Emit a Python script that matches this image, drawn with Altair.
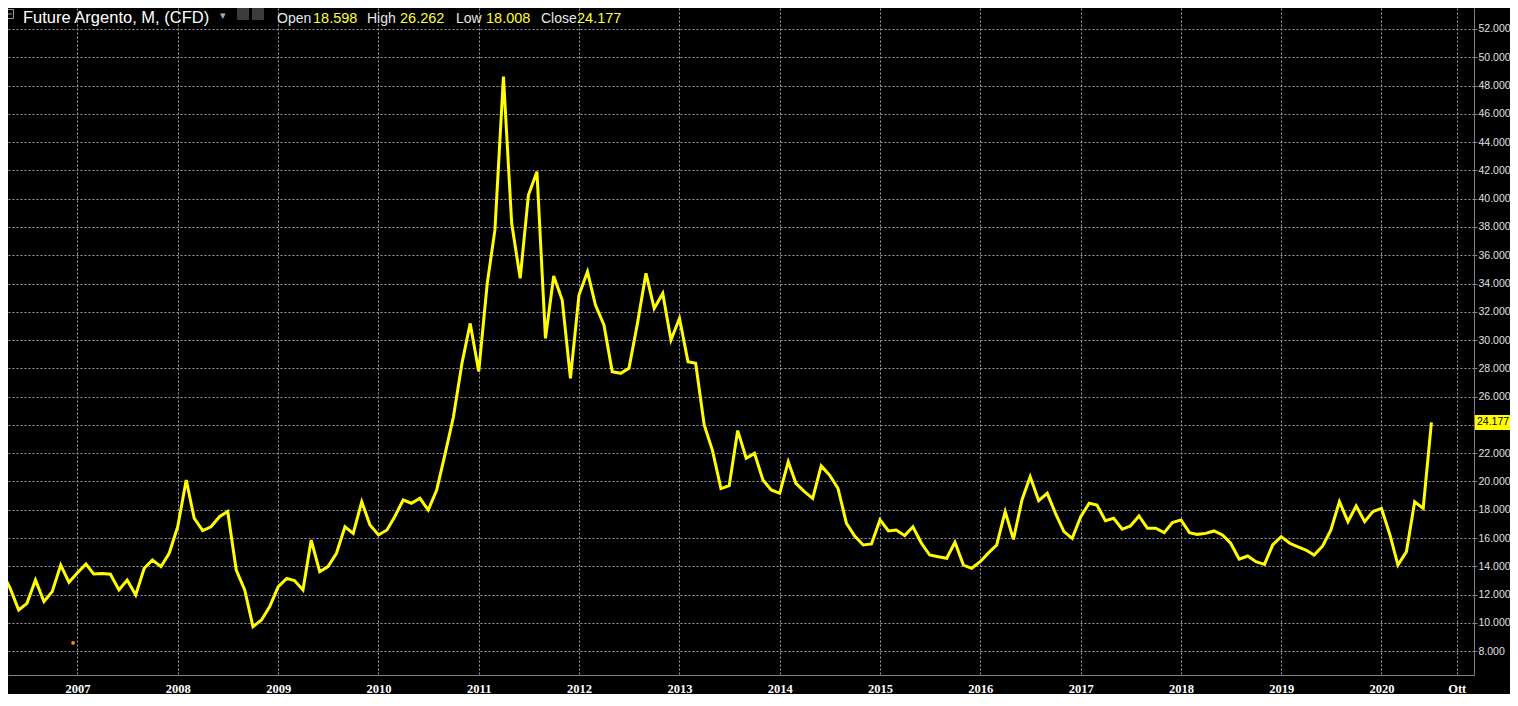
import altair as alt
import pandas as pd

# Monthly closes, silver CFD (Apr 2006 .. Jul 2020)
P2006 = [13.62, 12.44, 10.91, 11.38, 13.03, 11.50, 12.21, 14.09, 12.87]  # Apr-Dec
P2007 = [13.55, 14.16, 13.46, 13.50, 13.44, 12.33, 13.03, 11.97, 13.86, 14.45, 13.98, 14.92]
P2008 = [16.80, 20.10, 17.40, 16.52, 16.80, 17.51, 17.87, 13.74, 12.33, 9.73, 10.20, 11.15]
P2009 = [12.56, 13.15, 12.99, 12.33, 15.86, 13.62, 13.98, 14.92, 16.80, 16.33, 18.57, 16.92]
P2010 = [16.22, 16.57, 17.51, 18.69, 18.46, 18.81, 17.98, 19.40, 21.99, 24.58, 28.36, 31.18]
P2011 = [27.77, 34.01, 37.79, 48.63, 38.26, 34.37, 40.26, 41.91, 30.12, 34.53, 32.83, 27.29]
P2012 = [33.19, 34.84, 32.48, 31.07, 27.77, 27.65, 28.00, 31.18, 34.72, 32.24, 33.30, 30.01]
P2013 = [31.54, 28.47, 28.36, 24.00, 22.20, 19.50, 19.70, 23.60, 21.64, 21.99, 20.10, 19.40]
P2014 = [19.16, 21.40, 19.87, 19.28, 18.81, 21.10, 20.46, 19.52, 17.04, 16.14, 15.51, 15.58]
P2015 = [17.28, 16.50, 16.57, 16.17, 16.80, 15.63, 14.80, 14.68, 14.57, 15.70, 14.09, 13.86]
P2016 = [14.33, 14.97, 15.51, 17.87, 15.91, 18.69, 20.34, 18.64, 19.16, 17.75, 16.45, 15.98]
P2017 = [17.51, 18.46, 18.34, 17.23, 17.40, 16.62, 16.85, 17.56, 16.69, 16.69, 16.38, 17.09]
P2018 = [17.28, 16.38, 16.26, 16.33, 16.50, 16.22, 15.63, 14.50, 14.73, 14.33, 14.14, 15.51]
P2019 = [16.10, 15.63, 15.39, 15.15, 14.80, 15.44, 16.57, 18.57, 17.16, 18.27, 17.16, 17.87]
P2020 = [18.10, 16.22, 14.09, 15.04, 18.57, 18.10, 24.177]  # Jan-Jul

LAST_CLOSE = 24.177
Y_TICKS = list(range(8, 53, 2))
X_TICK_YEARS = list(range(2007, 2021))
HEADER = [
    ("Future Argento, M, (CFD)", 15, "#ffffff", 16.5),
    ("Open", 269, "#e6e6e6", 14), ("18.598", 305, "#ffff33", 14.5),
    ("High", 359, "#e6e6e6", 14), ("26.262", 392, "#ffff33", 14.5),
    ("Low", 448, "#e6e6e6", 14), ("18.008", 478, "#ffff33", 14.5),
    ("Close", 533, "#e6e6e6", 14), ("24.177", 569, "#ffff33", 14.5),
]

values = P2006 + P2007 + P2008 + P2009 + P2010 + P2011 + P2012 + P2013 + \
    P2014 + P2015 + P2016 + P2017 + P2018 + P2019 + P2020
dates = pd.date_range("2006-04-01", periods=len(values), freq="MS").strftime("%Y-%m-%d")
df = pd.DataFrame({"date": list(dates), "price": values})

W, H = 1466, 667
PAD_R, PAD_B = 36, 19
FONT = "Liberation Sans"
GRID = "#a0a0a0"

xscale = alt.Scale(type="utc",
                   domain=[alt.DateTime(year=2006, month=4, date=23, utc=True),
                           alt.DateTime(year=2020, month=12, date=3, utc=True)])
yscale = alt.Scale(domain=[6.314, 53.485], nice=False, zero=False)

x_vals = [alt.DateTime(year=y, month=1, date=1, utc=True) for y in X_TICK_YEARS] + \
    [alt.DateTime(year=2020, month=10, date=1, utc=True)]

xaxis = alt.Axis(values=x_vals, orient="bottom", title=None,
                 labelExpr="utcmonth(datum.value) == 9 ? 'Ott' : utcFormat(datum.value, '%Y')",
                 labelColor="#ffffff", labelFont="Liberation Sans Narrow", labelFontSize=12.5,
                 labelFontWeight="bold",
                 labelPadding=7, ticks=False, domainColor="#808080", domainWidth=1,
                 grid=True, gridColor=GRID, gridDash=[2, 2], gridWidth=1,
                 labelFlush=False, labelOverlap=False)
yaxis = alt.Axis(values=Y_TICKS, orient="right", title=None, format=".3f",
                 labelColor="#e0e0e0", labelFont=FONT, labelFontSize=10.5,
                 labelPadding=1, tickSize=3, tickColor="#808080",
                 domainColor="#808080", domainWidth=1,
                 grid=True, gridColor=GRID, gridDash=[2, 2], gridWidth=1,
                 labelFlush=False, labelOverlap=False)


def X(field):
    return alt.X(field, scale=xscale, axis=xaxis)


def Y(field):
    return alt.Y(field, scale=yscale, axis=yaxis)


line = alt.Chart(df).mark_line(color="#ffff00", strokeWidth=3, clip=True).encode(
    x=X("date:T"), y=Y("price:Q"),
)

dot = alt.Chart(pd.DataFrame({"date": ["2006-12-16"], "v": [8.58]})).mark_circle(
    color="#ff8c1a", size=14, opacity=1).encode(x=X("date:T"), y=Y("v:Q"))

tag_df = pd.DataFrame({"v": [LAST_CLOSE], "t": [f"{LAST_CLOSE:.3f}"]})
tag = alt.Chart(tag_df).mark_rule(color="#ffff00", strokeWidth=15, strokeCap="butt",
                                  clip=False).encode(
    y=Y("v:Q"), x=alt.value(W + 1), x2=alt.value(W + PAD_R),
)
tag_text = alt.Chart(tag_df).mark_text(align="left", baseline="middle", color="#000000",
                                       font=FONT, fontSize=10.5, clip=False).encode(
    y=Y("v:Q"), x=alt.value(W + 3), text="t:N",
)

layers = [line, dot, tag, tag_text]

for txt, xpos, col, fs in HEADER:
    layers.append(
        alt.Chart(pd.DataFrame({"t": [txt]})).mark_text(
            align="left", baseline="alphabetic", color=col, font=FONT, fontSize=fs,
            clip=False).encode(x=alt.value(xpos), y=alt.value(14.5), text="t:N")
    )

# small UI glyphs in the header
layers.append(alt.Chart(pd.DataFrame({"a": [0]})).mark_rect(
    fill="#000000", stroke="#999999", strokeWidth=1, clip=False).encode(
    x=alt.value(-3.5), x2=alt.value(5.5), y=alt.value(1.5), y2=alt.value(10.5)))
layers.append(alt.Chart(pd.DataFrame({"a": [0]})).mark_rule(
    color="#999999", strokeWidth=1, clip=False).encode(
    x=alt.value(-2), x2=alt.value(4), y=alt.value(6)))
layers.append(alt.Chart(pd.DataFrame({"t": ["▾"]})).mark_text(
    align="left", baseline="alphabetic", color="#aaaaaa", font="DejaVu Sans", fontSize=11,
    clip=False).encode(x=alt.value(212), y=alt.value(11), text="t:N"))
for x0 in (229, 244):
    layers.append(alt.Chart(pd.DataFrame({"a": [0]})).mark_rect(
        color="#3c3c3c", clip=False).encode(
        x=alt.value(x0), x2=alt.value(x0 + 12), y=alt.value(0), y2=alt.value(12)))

chart = alt.layer(*layers).properties(
    width=W, height=H,
    padding={"left": 0, "top": 0, "right": PAD_R, "bottom": PAD_B},
    autosize=alt.AutoSizeParams(type="none"),
).configure(background="#000000").configure_view(stroke=None, fill="#000000")

chart.save("out.html", embed_options={"renderer": "svg", "actions": False})
